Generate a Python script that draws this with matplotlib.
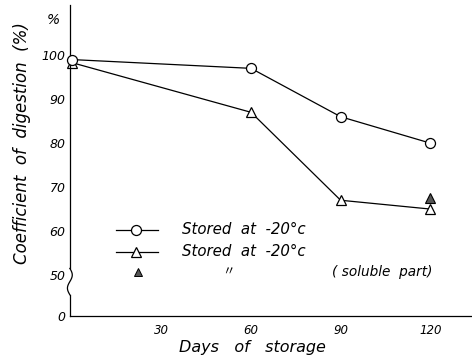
import numpy as np
import matplotlib
matplotlib.use("Agg")
import matplotlib.pyplot as plt
from matplotlib.lines import Line2D

# Storage time (days) and digestion coefficients (%)
days = [0, 60, 90, 120]
stored_circle = [99.0, 97.0, 86.0, 80.0]
stored_triangle = [98.3, 87.0, 67.0, 65.0]
soluble_days = [120]
soluble_part = [67.5]

x_ticks = [30, 60, 90, 120]
y_ticks = [50, 60, 70, 80, 90, 100]
y_bottom_label = "0"

plt.rcParams["font.family"] = ["DejaVu Sans"]
fig = plt.figure(figsize=(4.72, 3.61), dpi=100)
ax = fig.add_axes([0.148, 0.125, 0.852, 0.861])

ymin, ymax = 40.7, 111.4
ax.set_xlim(-0.7, 134)
ax.set_ylim(ymin, ymax)

lw = 0.9
ax.plot(days, stored_circle, color="black", lw=lw, marker="o", ms=7.2,
        mfc="white", mec="black", mew=0.9, zorder=3, clip_on=False)
ax.plot(days, stored_triangle, color="black", lw=lw, marker="^", ms=7.2,
        mfc="white", mec="black", mew=0.9, zorder=2, clip_on=False)
ax.plot(soluble_days, soluble_part, ls="none", marker="^", ms=6.5,
        mfc="#555555", mec="black", mew=0.8, zorder=4)

# axes and ticks
for s in ["top", "right", "left"]:
    ax.spines[s].set_visible(False)
ax.spines["bottom"].set_linewidth(0.9)
ax.set_xticks(x_ticks)
ax.set_xticklabels([str(v) for v in x_ticks], fontstyle="italic", fontsize=8.5)
ax.set_yticks([ymin] + y_ticks)
ax.set_yticklabels([y_bottom_label] + [str(v) for v in y_ticks],
                   fontstyle="italic", fontsize=9)
ax.tick_params(axis="both", length=0)
ax.tick_params(axis="x", pad=6)
ax.tick_params(axis="y", pad=3)

# left axis with break mark between 0 and 50
tr = ax.get_yaxis_transform()
ax.plot([0, 0], [ymax, 51.5], color="black", lw=lw, transform=tr, clip_on=False)
t = np.linspace(0, 1, 40)
ys = 51.5 - t * 6.0
xs = 0.006 * np.sin(t * 2 * np.pi)
ax.plot(xs, ys, color="black", lw=lw, transform=tr, clip_on=False)
ax.plot([0, 0], [45.5, ymin], color="black", lw=lw, transform=tr, clip_on=False)

ax.text(-0.025, 108, "%", transform=tr, fontstyle="italic", fontsize=10,
        ha="right", va="center")

# axis titles
fig.text(0.047, 0.605, "Coefficient  of  digestion  (%)", rotation=90,
         fontstyle="italic", fontsize=12, ha="center", va="center")
fig.text(0.535, 0.037, "Days   of   storage", fontstyle="italic",
         fontsize=11.5, ha="center", va="center")

# key
def px(x, y):
    return x / 472, 1 - y / 361

for yy, mk, fc in [(230, "o", "white"), (252, "^", "white")]:
    x0, y0 = px(116, yy)
    x1, _ = px(158, yy)
    fig.add_artist(Line2D([x0, x1], [y0, y0], color="black", lw=lw))
    xm, _ = px(136, yy)
    fig.add_artist(Line2D([xm], [y0], marker=mk, ms=7.2, mfc=fc, mec="black",
                          mew=0.9, ls="none"))
    tx, _ = px(182, yy - 1)
    fig.text(tx, y0, "Stored  at  -20°c", fontstyle="italic", fontsize=10.8,
             ha="left", va="center")

xm, ym = px(138, 272)
fig.add_artist(Line2D([xm], [ym], marker="^", ms=6, mfc="#555555",
                      mec="black", mew=0.7, ls="none"))
fig.text(px(228, 272)[0], ym, "〃", fontsize=9, ha="center", va="center",
         family=["DejaVu Sans", "Noto Sans CJK JP"])
fig.text(px(382, 271)[0], ym, "( soluble  part)", fontstyle="italic",
         fontsize=9.8, ha="center", va="center")

fig.savefig("out.png", dpi=100)
